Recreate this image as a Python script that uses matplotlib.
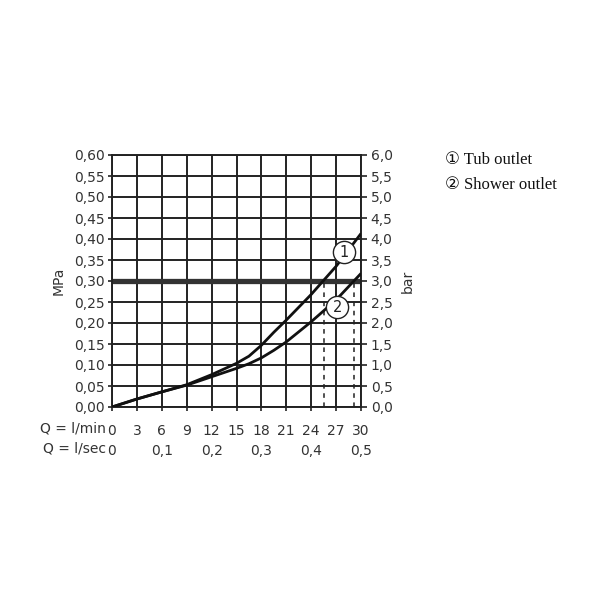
import matplotlib
matplotlib.use("Agg")
import matplotlib.pyplot as plt
import numpy as np

# flow rate in l/min and pressure loss in MPa
flow = [0, 3, 6, 9, 12, 15, 16.5, 18, 19.5, 21, 24, 27, 30]
tub = [0, 0.019, 0.036, 0.053, 0.077, 0.104, 0.121, 0.147, 0.178, 0.207, 0.268, 0.335, 0.413]
shower = [0, 0.019, 0.036, 0.052, 0.072, 0.092, 0.103, 0.117, 0.135, 0.155, 0.203, 0.255, 0.318]

max_pressure = 0.30          # MPa, thick reference line
tub_at_max = 25.6            # l/min where tub curve meets the reference line
shower_at_max = 29.1         # l/min where shower curve meets the reference line

lmin_ticks = [0, 3, 6, 9, 12, 15, 18, 21, 24, 27, 30]
lsec_ticks = [0, 0.1, 0.2, 0.3, 0.4, 0.5]
mpa_ticks = np.round(np.arange(0, 0.601, 0.05), 2)
bar_ticks = np.round(np.arange(0, 6.01, 0.5), 1)

legend_items = ["\u2460 Tub outlet", "\u2461 Shower outlet"]
curve_tags = [("1", 27.9, 0.368), ("2", 27.15, 0.237)]

plt.rcParams['font.family'] = ['DejaVu Sans']
ink = "#222222"
txt = "#333333"

fig = plt.figure(figsize=(6, 6), dpi=100)
ax = fig.add_axes([112/600, 1 - 407/600, 249/600, 252/600])

ax.set_xlim(0, 30)
ax.set_ylim(0, 0.60)

# grid
for x in lmin_ticks:
    ax.axvline(x, color=ink, lw=1.4, zorder=1)
for y in mpa_ticks:
    ax.axhline(y, color=ink, lw=1.4, zorder=1)

# reference pressure line
ax.axhline(max_pressure, color="#333333", lw=3.8, zorder=2)

# dashed drops
ax.plot([tub_at_max, tub_at_max], [0, max_pressure], color=ink, lw=1.1,
        linestyle=(0, (3, 3)), zorder=2)
ax.plot([shower_at_max, shower_at_max], [0, max_pressure], color=ink, lw=1.1,
        linestyle=(0, (3, 3)), zorder=2)

# curves
ax.plot(flow, tub, color="#111111", lw=2.0, zorder=3, solid_capstyle='butt')
ax.plot(flow, shower, color="#111111", lw=2.0, zorder=3, solid_capstyle='butt')

# circled tags on the curves
for tag, tx, ty in curve_tags:
    ax.plot(tx, ty, marker='o', markersize=16, markerfacecolor='white',
            markeredgecolor=ink, markeredgewidth=1.0, zorder=4, clip_on=False)
    ax.text(tx, ty, tag, ha='center', va='center', fontsize=10.5, color=ink, zorder=5)

for s in ax.spines.values():
    s.set_color(ink)
    s.set_linewidth(1.4)

ax.set_yticks(mpa_ticks)
ax.set_yticklabels([f"{v:.2f}".replace(".", ",") for v in mpa_ticks])
ax.set_xticks(lmin_ticks)
ax.set_xticklabels([str(v) for v in lmin_ticks])
ax.tick_params(axis='both', direction='out', length=3, width=1.2, color=ink,
               labelsize=10, labelcolor=txt)
ax.tick_params(axis='y', pad=2)
ax.tick_params(axis='x', pad=9)
ax.set_ylabel("MPa", fontsize=10, color=txt, labelpad=6)

# bar scale on the right
ax2 = ax.twinx()
ax2.set_ylim(0, 6.0)
ax2.set_yticks(bar_ticks)
ax2.set_yticklabels([f"{v:.1f}".replace(".", ",") for v in bar_ticks])
ax2.tick_params(axis='y', direction='out', length=4, width=1.2, color=ink,
                labelsize=10, labelcolor=txt, pad=3)
for s in ax2.spines.values():
    s.set_visible(False)
ax2.set_ylabel("bar", fontsize=10, color=txt, rotation=90, labelpad=6)

# second flow scale in l/sec
sec = ax.secondary_xaxis(-0.125, functions=(lambda q: q / 60.0, lambda s: s * 60.0))
sec.set_xticks(lsec_ticks)
sec.set_xticklabels(["0" if v == 0 else f"{v:.1f}".replace(".", ",") for v in lsec_ticks])
sec.tick_params(length=0, labelsize=10, labelcolor=txt, pad=4)
sec.spines['bottom'].set_visible(False)

# row captions
ax.text(-0.025, -0.087, "Q = l/min", transform=ax.transAxes, ha='right', va='center',
        fontsize=10, color=txt)
ax.text(-0.025, -0.166, "Q = l/sec", transform=ax.transAxes, ha='right', va='center',
        fontsize=10, color=txt)

# legend text
fig.text(445/600, 1 - 160/600, legend_items[0], fontsize=12, color="#111111",
         family=['Liberation Serif', 'DejaVu Sans'], va='center', ha='left')
fig.text(445/600, 1 - 185/600, legend_items[1], fontsize=12, color="#111111",
         family=['Liberation Serif', 'DejaVu Sans'], va='center', ha='left')

fig.savefig("out.png", dpi=100, facecolor='white')
